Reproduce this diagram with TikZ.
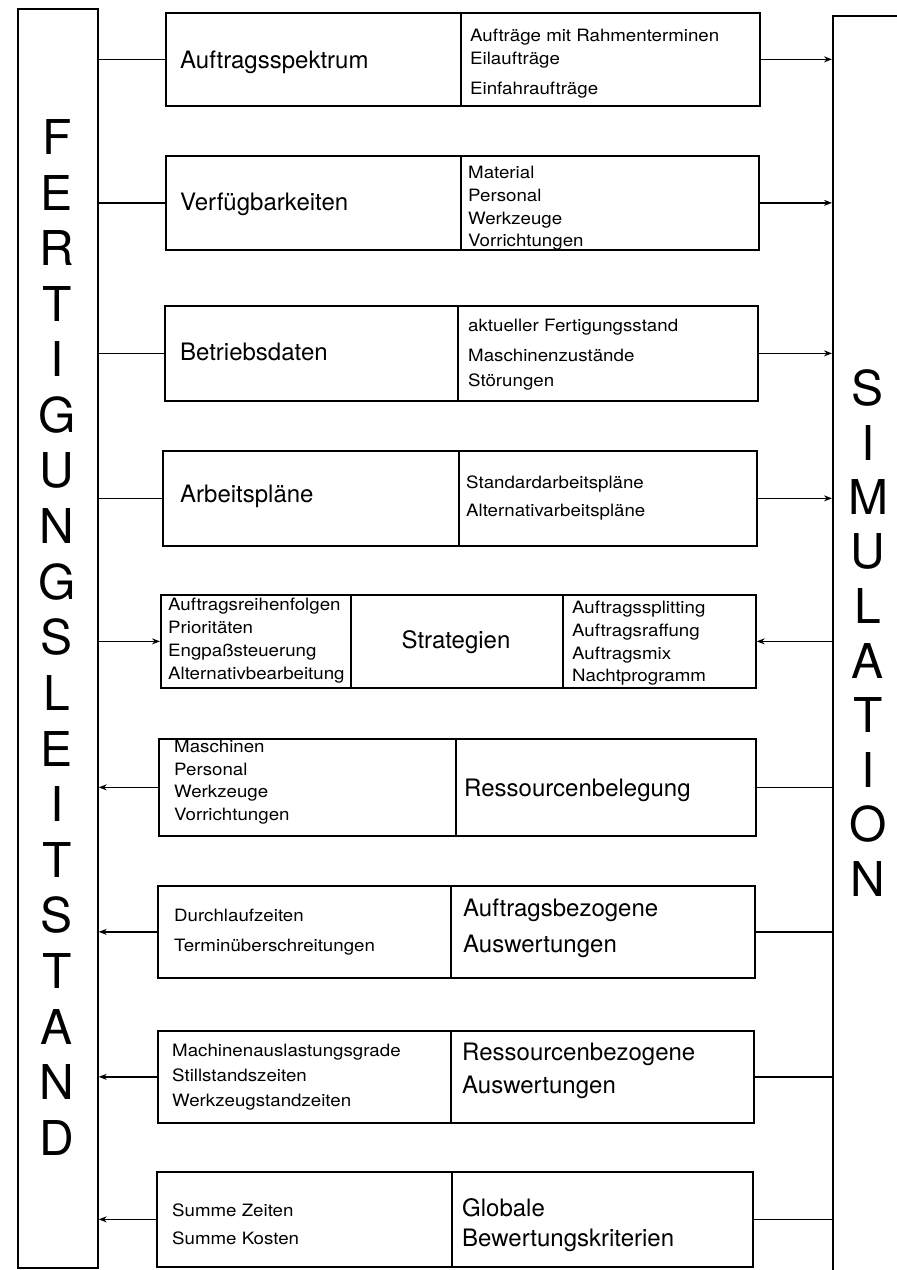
\documentclass[tikz,border=0pt]{standalone}
\usepackage{fontspec}
\setmainfont{TeX Gyre Heros}
\newfontfamily\listfont[FakeStretch=1.1]{TeX Gyre Heros}
\usetikzlibrary{arrows.meta}
\newcommand\mkcell[5]{% name, x1, y1, x2, y2
  \node[frame, anchor=north west, minimum width={#4-#2}, minimum height={#5-#3}] (#1) at (#2,#3) {};}
\begin{document}
\begin{tikzpicture}[x=1pt,y=-1pt,
  frame/.style={draw, line width=1.7pt, rectangle, inner sep=0pt},
  big/.style={font=\fontsize{24}{28}\selectfont, anchor=base west, inner sep=0pt},
  small/.style={font=\listfont\fontsize{17}{20}\selectfont, anchor=base west, inner sep=0pt},
  letter/.style={font=\fontsize{48}{50}\selectfont, inner sep=0pt},
  link/.style={line width=1.7pt},
  arr/.style={link, -{Stealth[length=8pt,width=6pt]}},
]
\useasboundingbox (0,0) rectangle (897,1270);
\clip (0,0) rectangle (897,1270);

% the two side columns
\node[frame, anchor=north west, minimum width=80, minimum height=1259] (FL) at (17,8) {};
\node[frame, anchor=north west, minimum width=100, minimum height=1300] (SIM) at (832,15) {};
\foreach \ch [count=\i] in {F,E,R,T,I,G,U,N,G,S,L,E,I,T,S,T,A,N,D}
  \node[letter] (fl\i) at (57,{137+55.6*(\i-1)}) {\ch};
\foreach \ch [count=\i] in {S,I,M,U,L,A,T,I,O,N}
  \node[letter] (sim\i) at (868,{388+54.5*(\i-1)}) {\ch};

% row cells
\mkcell{r1a}{165}{12}{460}{105}   \mkcell{r1b}{460}{12}{759}{105}
\mkcell{r2a}{165}{155}{460}{249}  \mkcell{r2b}{460}{155}{758}{249}
\mkcell{r3a}{164}{305}{457}{400}  \mkcell{r3b}{457}{305}{757}{400}
\mkcell{r4a}{162}{450}{458}{545}  \mkcell{r4b}{458}{450}{756}{545}
\mkcell{r5a}{160}{594}{350}{687}  \mkcell{r5b}{350}{594}{562}{687} \mkcell{r5c}{562}{594}{755}{687}
\mkcell{r6a}{158}{738}{455}{835}  \mkcell{r6b}{455}{738}{755}{835}
\mkcell{r7a}{157}{885}{450}{977}  \mkcell{r7b}{450}{885}{754}{977}
\mkcell{r8a}{157}{1030}{450}{1122} \mkcell{r8b}{450}{1030}{753}{1122}
\mkcell{r9a}{156}{1171}{451}{1266} \mkcell{r9b}{451}{1171}{752}{1266}

% connectors
\foreach \r in {1,2,3,4}{
  \draw[link] (r\r a.west) -- (r\r a.west -| FL.east);
  \draw[arr] (r\r b.east) -- (r\r b.east -| SIM.west);
}
\draw[arr] (r5a.west -| FL.east) -- (r5a.west);
\draw[arr] (r5c.east -| SIM.west) -- (r5c.east);
\foreach \r in {6,7,8,9}{
  \draw[arr] (r\r a.west) -- (r\r a.west -| FL.east);
  \draw[link] (r\r b.east) -- (r\r b.east -| SIM.west);
}

% row 1
\node[big] (t1) at (180,68) {Auftragsspektrum};
\node[small] (t1a) at (470,41) {Aufträge mit Rahmenterminen};
\node[small] (t1b) at (470,64) {Eilaufträge};
\node[small] (t1c) at (470,94) {Einfahraufträge};
% row 2
\node[big] (t2) at (180,210) {Verfügbarkeiten};
\node[small] (t2a) at (468,178) {Material};
\node[small] (t2b) at (468,201) {Personal};
\node[small] (t2c) at (468,224) {Werkzeuge};
\node[small] (t2d) at (468,246) {Vorrichtungen};
% row 3
\node[big] (t3) at (180,360) {Betriebsdaten};
\node[small] (t3a) at (468,331) {aktueller Fertigungsstand};
\node[small] (t3b) at (468,361) {Maschinenzustände};
\node[small] (t3c) at (468,386) {Störungen};
% row 4
\node[big] (t4) at (180,502) {Arbeitspläne};
\node[small] (t4a) at (466,488) {Standardarbeitspläne};
\node[small] (t4b) at (466,516) {Alternativarbeitspläne};
% row 5
\node[small] (t5a) at (168,610) {Auftragsreihenfolgen};
\node[small] (t5b) at (168,633) {Prioritäten};
\node[small] (t5c) at (168,656) {Engpaßsteuerung};
\node[small] (t5d) at (168,679) {Alternativbearbeitung};
\node[big, anchor=base] (t5) at (456,648) {Strategien};
\node[small] (t5e) at (572,613) {Auftragssplitting};
\node[small] (t5f) at (572,636) {Auftragsraffung};
\node[small] (t5g) at (572,659) {Auftragsmix};
\node[small] (t5h) at (572,681) {Nachtprogramm};
% row 6
\node[small] (t6a) at (174,752) {Maschinen};
\node[small] (t6b) at (174,775) {Personal};
\node[small] (t6c) at (174,797) {Werkzeuge};
\node[small] (t6d) at (174,820) {Vorrichtungen};
\node[big] (t6) at (464,796) {Ressourcenbelegung};
% row 7
\node[small] (t7a) at (174,921) {Durchlaufzeiten};
\node[small] (t7b) at (174,951) {Terminüberschreitungen};
\node[big] (t7) at (463,916) {Auftragsbezogene};
\node[big] (t7c) at (463,952) {Auswertungen};
% row 8
\node[small] (t8a) at (172,1056) {Machinenauslastungsgrade};
\node[small] (t8b) at (172,1081) {Stillstandszeiten};
\node[small] (t8c) at (172,1106) {Werkzeugstandzeiten};
\node[big] (t8) at (462,1060) {Ressourcenbezogene};
\node[big] (t8d) at (462,1093) {Auswertungen};
% row 9
\node[small] (t9a) at (172,1216) {Summe Zeiten};
\node[small] (t9b) at (172,1244) {Summe Kosten};
\node[big] (t9) at (462,1216) {Globale};
\node[big] (t9c) at (462,1246) {Bewertungskriterien};
\end{tikzpicture}
\end{document}
